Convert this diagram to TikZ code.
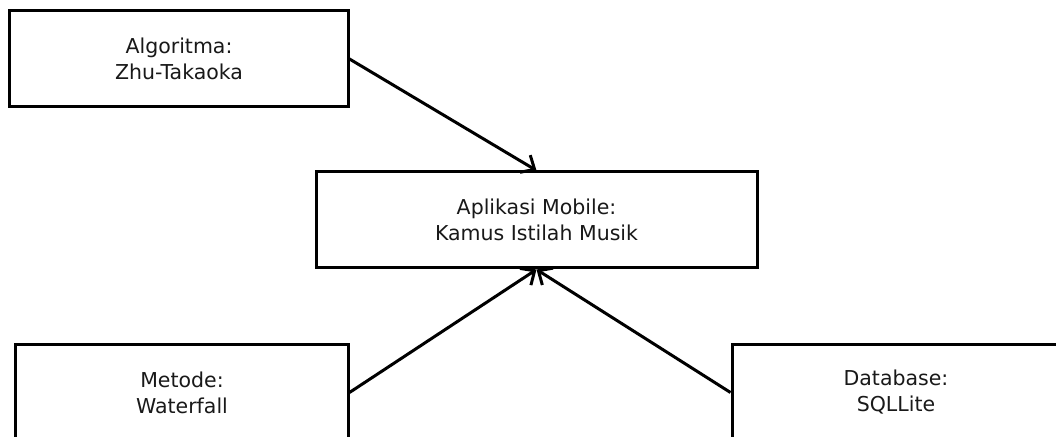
\documentclass[tikz,border=0pt]{standalone}
\usepackage{fontspec}
\setmainfont{DejaVu Sans}
\usetikzlibrary{arrows.meta}
\begin{document}
\begin{tikzpicture}[x=1bp,y=-1bp,
  block/.style={draw=black, line width=3bp, fill=white, rectangle,
    minimum height=96bp, inner sep=0pt, align=center, text=black!90,
    font=\fontsize{20.5bp}{26bp}\selectfont},
  link/.style={draw=black, line width=3bp,
    -{Straight Barb[length=11bp,width=20bp,line width=3bp]}}]
  \useasboundingbox (0,0) rectangle (1056,437);
  \clip (0,0) rectangle (1056,437);
  \fill[white] (0,0) rectangle (1056,437);

  % boxes
  \node[block, minimum width=338bp] (algo) at (179,59) {Algoritma:\\Zhu-Takaoka};
  \node[block, minimum width=441bp] (app) at (536.5,220) {Aplikasi Mobile:\\Kamus Istilah Musik};
  \node[block, minimum width=332bp] (method) at (182,392.5) {Metode:\\Waterfall};
  \node[block, minimum width=328bp] (db) at (896,392.5) {Database:\\SQLLite};

  % connectors
  \draw[link] (algo.east) -- (app.north);
  \draw[link] (method.east) -- (app.south);
  \draw[link] (db.west) -- (app.south);
\end{tikzpicture}
\end{document}
